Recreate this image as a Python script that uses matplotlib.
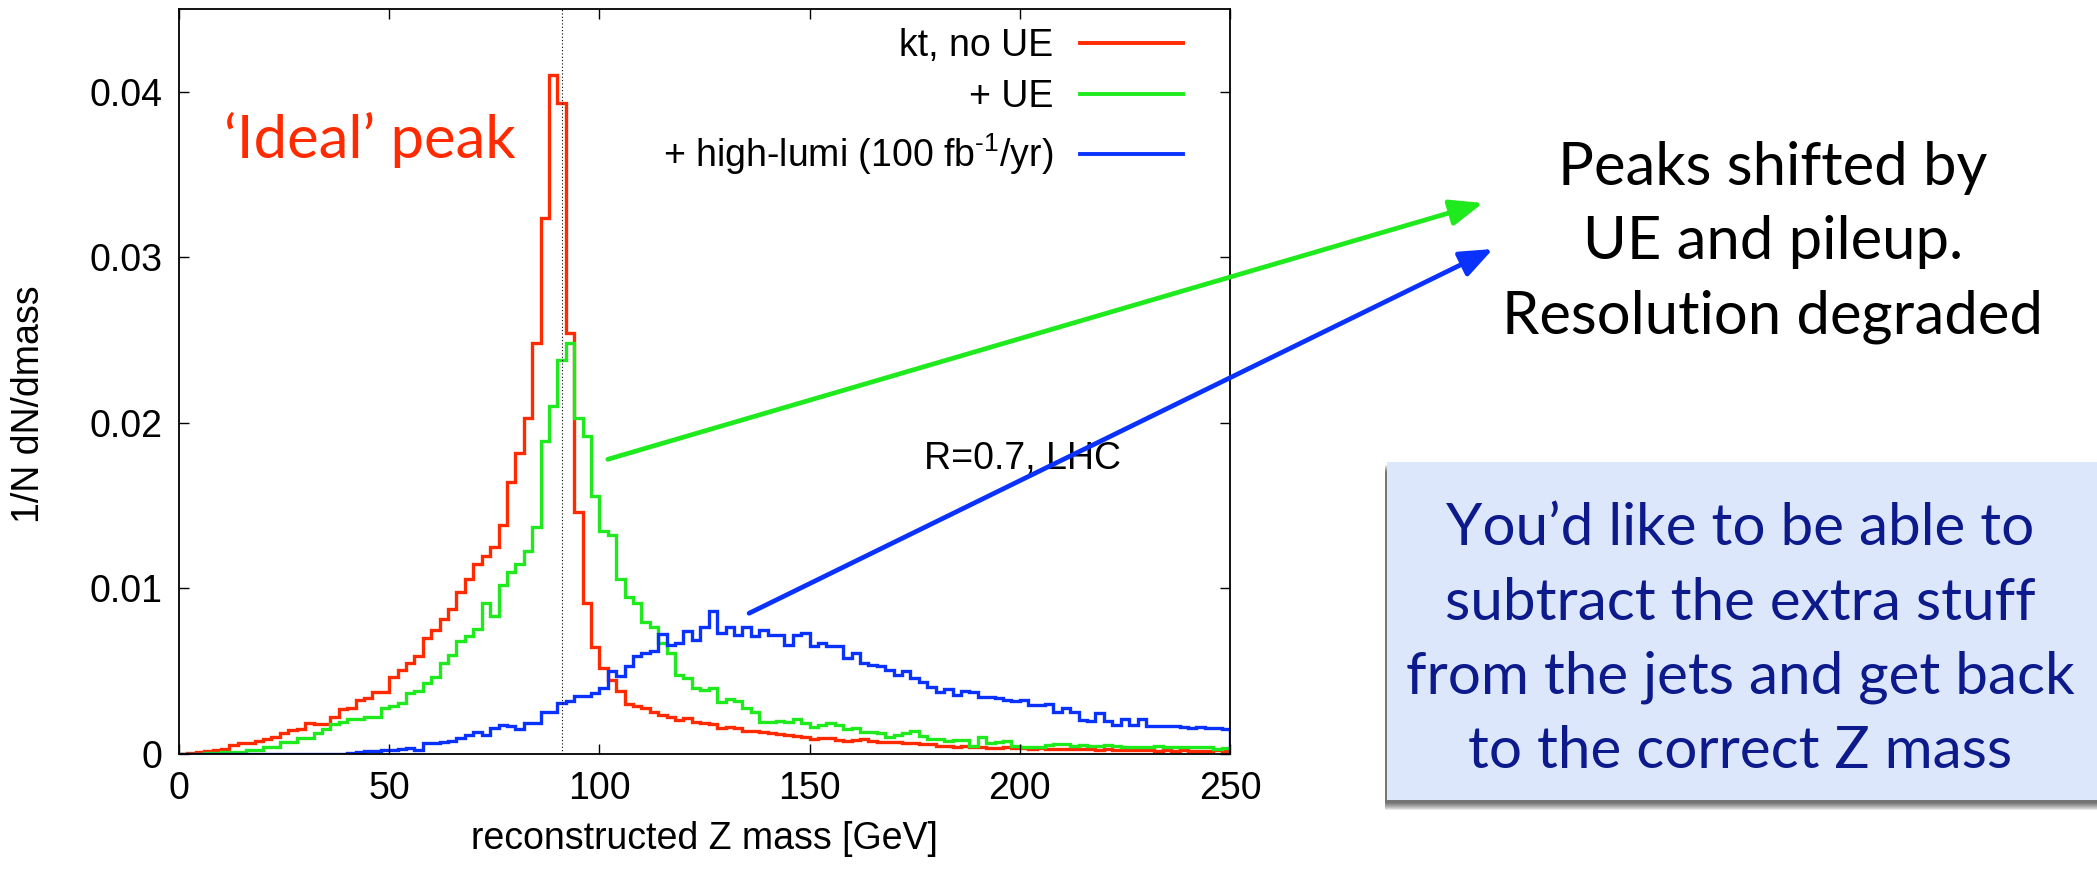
import numpy as np
import matplotlib
matplotlib.use("Agg")
from matplotlib import pyplot as plt
from matplotlib.patches import Rectangle

plt.rcParams["font.family"] = ["Liberation Sans", "DejaVu Sans"]
plt.rcParams["mathtext.fontset"] = "custom"
plt.rcParams["mathtext.rm"] = "Liberation Sans"
plt.rcParams["mathtext.default"] = "regular"

# 2 GeV bins from 0 to 250
bin_edges = np.arange(0, 252, 2)

# kt jets, no underlying event
kt_no_ue = [
    0.0, 0.00005, 0.0001, 0.0002, 0.00025, 0.0003, 0.00055, 0.00065, 0.00065, 0.0008,
    0.0009, 0.00105, 0.00125, 0.00145, 0.0015, 0.00185, 0.0018, 0.0018, 0.00225, 0.0027,
    0.0028, 0.00326, 0.0034, 0.00376, 0.00376, 0.00464, 0.00505, 0.00548, 0.0059, 0.007,
    0.0075, 0.00816, 0.00878, 0.00978, 0.01058, 0.0115, 0.01195, 0.0125, 0.01386, 0.01643,
    0.01818, 0.0203, 0.0248, 0.0324, 0.041, 0.0393, 0.0254, 0.0146, 0.00915, 0.00647,
    0.0052, 0.00448, 0.0038, 0.003, 0.0029, 0.00275, 0.00255, 0.00235, 0.00225, 0.00205,
    0.0022, 0.00195, 0.00185, 0.0018, 0.0016, 0.00165, 0.0016, 0.0014, 0.0014, 0.0013,
    0.00125, 0.0012, 0.00115, 0.0011, 0.001, 0.0009, 0.00095, 0.00095, 0.00085, 0.0008,
    0.00085, 0.0009, 0.0008, 0.00075, 0.00075, 0.0007, 0.00065, 0.00065, 0.0006, 0.00058,
    0.0005, 0.00048, 0.00045, 0.00048, 0.00042, 0.00042, 0.00038, 0.00038, 0.00042, 0.00038,
    0.00035, 0.00032, 0.00035, 0.0003, 0.00032, 0.0003, 0.00028, 0.0003, 0.00028, 0.00025,
    0.00028, 0.00025, 0.00025, 0.00022, 0.00025, 0.00022, 0.0002, 0.00022, 0.0002, 0.00022,
    0.0002, 0.00018, 0.0002, 0.00022, 0.0002,
]

# with underlying event
with_ue = [
    0.0, 0.00002, 0.00003, 0.00005, 0.00005, 0.0001, 0.0001, 0.00015, 0.00025, 0.00025,
    0.0004, 0.00045, 0.00075, 0.0007, 0.00095, 0.00095, 0.00125, 0.0015, 0.0018, 0.00195,
    0.0021, 0.0021, 0.00225, 0.00225, 0.00276, 0.00288, 0.00308, 0.00366, 0.0038, 0.0043,
    0.00468, 0.0055, 0.006, 0.0068, 0.0071, 0.00758, 0.00914, 0.00836, 0.0102, 0.011,
    0.0115, 0.01225, 0.0137, 0.0189, 0.021, 0.0238, 0.0248, 0.0203, 0.0192, 0.0156,
    0.01345, 0.0132, 0.0106, 0.0095, 0.0091, 0.008, 0.0077, 0.0067, 0.0061, 0.0048,
    0.0046, 0.004, 0.00386, 0.004, 0.00316, 0.0033, 0.0032, 0.0028, 0.00255, 0.00195,
    0.00195, 0.002, 0.00195, 0.0021, 0.00185, 0.00165, 0.00175, 0.0019, 0.00175, 0.0015,
    0.0016, 0.0013, 0.0013, 0.00125, 0.00105, 0.00115, 0.00125, 0.0014, 0.0011, 0.00089,
    0.00089, 0.0008, 0.00085, 0.00085, 0.0005, 0.001, 0.00065, 0.0007, 0.0008, 0.0005,
    0.00045, 0.00042, 0.00045, 0.00055, 0.0006, 0.00058, 0.0005, 0.00055, 0.0005, 0.0005,
    0.00052, 0.00046, 0.00045, 0.0004, 0.0004, 0.00045, 0.0005, 0.00045, 0.0004, 0.00045,
    0.00045, 0.0004, 0.00045, 0.0003, 0.00035,
]

# with underlying event and high-lumi pileup
high_lumi = [
    0.0, 0.00001, 0.00001, 0.00001, 0.00001, 0.00001, 0.00001, 0.00001, 0.00001, 0.00001,
    0.00002, 0.00002, 0.00002, 0.00002, 0.00002, 0.00003, 0.00003, 0.00003, 0.00003, 0.00003,
    0.00008, 0.0001, 0.0002, 0.0002, 0.00025, 0.00027, 0.0003, 0.00038, 0.00022, 0.00065,
    0.00068, 0.0007, 0.00078, 0.00095, 0.00115, 0.0013, 0.00115, 0.0016, 0.00175, 0.0017,
    0.0015, 0.00185, 0.0019, 0.00255, 0.00255, 0.00306, 0.0032, 0.0035, 0.0035, 0.0037,
    0.004, 0.005, 0.0047, 0.0053, 0.0059, 0.0061, 0.0062, 0.00725, 0.0066, 0.0067,
    0.0074, 0.0069, 0.0077, 0.00865, 0.0073, 0.0077, 0.0072, 0.0077, 0.0071, 0.0075,
    0.0072, 0.0072, 0.0066, 0.0072, 0.0073, 0.0065, 0.0067, 0.0065, 0.0065, 0.0058,
    0.0061, 0.0055, 0.0054, 0.0053, 0.0051, 0.0048, 0.005, 0.00457, 0.00436, 0.00406,
    0.00376, 0.0039, 0.00356, 0.0038, 0.00376, 0.00342, 0.00342, 0.00336, 0.00326, 0.0032,
    0.00326, 0.00296, 0.00296, 0.003, 0.00255, 0.00275, 0.00255, 0.00205, 0.002, 0.0025,
    0.002, 0.00175, 0.0021, 0.00175, 0.0021, 0.0017, 0.0017, 0.0017, 0.0017, 0.00165,
    0.0016, 0.00165, 0.0016, 0.0016, 0.0015,
]

series_labels = ["kt, no UE", "+ UE", r"+ high-lumi (100 fb$^{\text{-}1}$/yr)"]
series_colors = ["#ff2a00", "#1eea1e", "#0a32ff"]
z_mass = 91.19

slide_font = ["Lato", "DejaVu Sans"]
W, H = 2097, 876


def fx(px):
    return px / W


def fy(py):
    return 1 - py / H


fig = plt.figure(figsize=(W / 100, H / 100), dpi=100)
ax = fig.add_axes([fx(179), fy(754), fx(1230) - fx(179), fy(9) - fy(754)])

handles = []
for vals, col, lab in zip([kt_no_ue, with_ue, high_lumi], series_colors, series_labels):
    ax.stairs(vals, bin_edges, color=col, lw=2.4, label=lab)
    handles.append(plt.Line2D([], [], color=col, lw=2.8))

ax.axvline(z_mass, color="k", lw=0.8, ls=(0, (1, 2)))

ax.set_xlim(0, 250)
ax.set_ylim(0, 0.045)
ax.set_xticks([0, 50, 100, 150, 200, 250])
ax.set_yticks([0, 0.01, 0.02, 0.03, 0.04])
ax.set_yticklabels(["0", "0.01", "0.02", "0.03", "0.04"])
ax.tick_params(direction="in", length=7, width=1.0, top=True, right=True,
               labelsize=27, pad=12)
for sp in ax.spines.values():
    sp.set_linewidth(1.3)

ax.set_xlabel("reconstructed Z mass [GeV]", fontsize=27, labelpad=10)
fig.text(fx(29), fy(404), "1/N dN/dmass", rotation=90, fontsize=27,
         ha="center", va="center")

ax.legend(handles, series_labels, loc="upper right", bbox_to_anchor=(0.955, 0.975),
          markerfirst=False, frameon=False, fontsize=27, handlelength=2.75,
          handletextpad=0.7, labelspacing=0.42, borderpad=0, borderaxespad=0)

ax.text(224, 0.0172, "R=0.7, LHC", fontsize=27, ha="right", va="baseline")

# slide annotations
fig.text(fx(224), fy(158), "\u2018Ideal\u2019 peak", color="#ff2a00", fontsize=43,
         family=slide_font, ha="left", va="baseline")

for i, line in enumerate(["Peaks shifted by", "UE and pileup.", "Resolution degraded"]):
    fig.text(fx(1773), fy(185 + 74 * i), line, fontsize=43, family=slide_font,
             ha="center", va="baseline")

for col, start, tip in [(series_colors[1], (102, 0.0178), (1483, 673)),
                        (series_colors[2], (135.6, 0.0085), (1493, 627))]:
    ax.annotate("", xy=tip, xycoords="figure pixels", xytext=start, textcoords="data",
                annotation_clip=False,
                arrowprops=dict(arrowstyle="-|>,head_length=1.0,head_width=0.4",
                                mutation_scale=20, color=col, lw=3.4,
                                shrinkA=0, shrinkB=0))

# callout box with soft shadow
for k in range(8):
    fig.patches.append(Rectangle((fx(1387 - 2), fy(800 + 3 + k)), 1.0, fy(462) - fy(800),
                                 transform=fig.transFigure, facecolor="black",
                                 alpha=0.09, edgecolor="none", zorder=1))
fig.patches.append(Rectangle((fx(1387), fy(800)), 1.0, fy(462) - fy(800),
                             transform=fig.transFigure, facecolor="#dde7fb",
                             edgecolor="none", zorder=2))

box_lines = ["You\u2019d like to be able to", "subtract the extra stuff",
             "from the jets and get back", "to the correct Z mass"]
for i, line in enumerate(box_lines):
    fig.text(fx(1740), fy(545 + 74.5 * i), line, fontsize=42, family=slide_font,
             color="#0c1a8c", ha="center", va="baseline", zorder=3)

fig.savefig("out.png", dpi=100)
